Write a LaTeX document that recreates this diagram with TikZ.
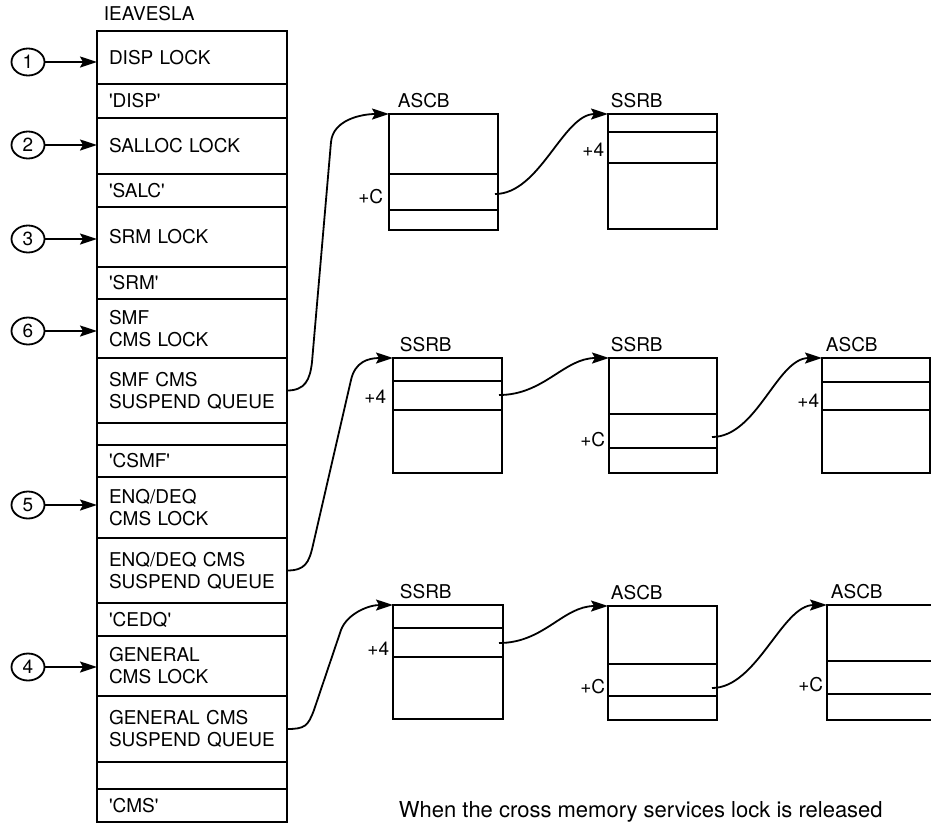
\documentclass[tikz,border=0pt]{standalone}
\usepackage{fontspec}
\setmainfont{TeX Gyre Heros}
\usetikzlibrary{shapes.geometric, arrows.meta, positioning, calc}
\newcommand{\diagfont}{\fontsize{19}{22}\selectfont}
\newcommand{\tick}{\textquotesingle}

\begin{document}
\begin{tikzpicture}[x=1pt, y=-1pt, line width=1.8pt,
  slot/.style={draw, outer sep=0pt, inner xsep=12pt, inner ysep=0pt, minimum width=190pt, text width=166pt, align=left, font=\diagfont},
  num/.style={draw, ellipse, minimum width=33pt, minimum height=27pt, inner sep=0pt, font=\diagfont},
  cb/.style={draw, outer sep=0pt, anchor=north west, minimum width=109pt, minimum height=116pt, inner sep=0pt},
  cbtitle/.style={anchor=base west, inner sep=0pt, font=\diagfont},
  offs/.style={anchor=base east, inner sep=0pt, font=\diagfont},
  ptr/.style={-{Stealth[length=17pt, width=11pt, inset=3pt]}}]
  \useasboundingbox (0,0) rectangle (931,823);

  % the lock word area
  \node[cbtitle] (ttl) at (103,20) {IEAVESLA};
  \node[slot, anchor=north west, minimum height=53pt] (r1) at (97,31) {DISP LOCK};
  \node[slot, minimum height=34pt, below=0pt of r1] (r2) {\tick DISP\tick};
  \node[slot, minimum height=56pt, below=0pt of r2] (r3) {SALLOC LOCK};
  \node[slot, minimum height=33pt, below=0pt of r3] (r4) {\tick SALC\tick};
  \node[slot, minimum height=60pt, below=0pt of r4] (r5) {SRM LOCK};
  \node[slot, minimum height=32pt, below=0pt of r5] (r6) {\tick SRM\tick};
  \node[slot, minimum height=59pt, below=0pt of r6] (r7) {SMF\\CMS LOCK};
  \node[slot, minimum height=65pt, below=0pt of r7] (r8) {SMF CMS\\SUSPEND QUEUE};
  \node[slot, minimum height=22pt, below=0pt of r8] (r9) {};
  \node[slot, minimum height=32pt, below=0pt of r9] (r10) {\tick CSMF\tick};
  \node[slot, minimum height=61pt, below=0pt of r10] (r11) {ENQ/DEQ\\CMS LOCK};
  \node[slot, minimum height=65pt, below=0pt of r11] (r12) {ENQ/DEQ CMS\\SUSPEND QUEUE};
  \node[slot, minimum height=33pt, below=0pt of r12] (r13) {\tick CEDQ\tick};
  \node[slot, minimum height=60pt, below=0pt of r13] (r14) {GENERAL\\CMS LOCK};
  \node[slot, minimum height=66pt, below=0pt of r14] (r15) {GENERAL CMS\\SUSPEND QUEUE};
  \node[slot, minimum height=27pt, below=0pt of r15] (r16) {};
  \node[slot, minimum height=33pt, below=0pt of r16] (r17) {\tick CMS\tick};

  % numbered entry points
  \node[num] (c1) at (28,62) {1};
  \node[num] (c2) at (28,145) {2};
  \node[num] (c3) at (28,239) {3};
  \node[num] (c6) at (28,331) {6};
  \node[num] (c5) at (28,505) {5};
  \node[num] (c4) at (28,667) {4};
  \draw[ptr] (c1) -- (c1 -| r1.west);
  \draw[ptr] (c2) -- (c2 -| r3.west);
  \draw[ptr] (c3) -- (c3 -| r5.west);
  \draw[ptr] (c6) -- (c6 -| r7.west);
  \draw[ptr] (c5) -- (c5 -| r11.west);
  \draw[ptr] (c4) -- (c4 -| r14.west);

  % SMF queue
  \node[cb] (a1) at (389,114) {};
  \node[cbtitle] at ([shift={(8,-7)}]a1.north west) {ASCB};
  \draw ($(a1.north west)+(0,60)$) -- ($(a1.north east)+(0,60)$);
  \draw ($(a1.north west)+(0,96)$) -- ($(a1.north east)+(0,96)$);
  \node[offs] at ($(a1.north west)+(-5,89)$) {+C};
  \node[cb, minimum height=115pt] (s1) at (608,114) {};
  \node[cbtitle] at ([shift={(2,-7)}]s1.north west) {SSRB};
  \draw ($(s1.north west)+(0,18)$) -- ($(s1.north east)+(0,18)$);
  \draw ($(s1.north west)+(0,49)$) -- ($(s1.north east)+(0,49)$);
  \node[offs] at ($(s1.north west)+(-3,42)$) {+4};

  % ENQ/DEQ queue
  \node[cb, minimum height=115pt] (s2) at (393,358) {};
  \node[cbtitle] at ([shift={(6,-7)}]s2.north west) {SSRB};
  \draw ($(s2.north west)+(0,23)$) -- ($(s2.north east)+(0,23)$);
  \draw ($(s2.north west)+(0,52)$) -- ($(s2.north east)+(0,52)$);
  \node[offs] at ($(s2.north west)+(-6,45)$) {+4};
  \node[cb, minimum width=108pt, minimum height=115pt] (s3) at (609,358) {};
  \node[cbtitle] at ([shift={(1,-7)}]s3.north west) {SSRB};
  \draw ($(s3.north west)+(0,56)$) -- ($(s3.north east)+(0,56)$);
  \draw ($(s3.north west)+(0,90)$) -- ($(s3.north east)+(0,90)$);
  \node[offs] at ($(s3.north west)+(-3,88)$) {+C};
  \node[cb, minimum width=108pt, minimum height=115pt] (a2) at (822,358) {};
  \node[cbtitle] at ([shift={(3,-7)}]a2.north west) {ASCB};
  \draw ($(a2.north west)+(0,24)$) -- ($(a2.north east)+(0,24)$);
  \draw ($(a2.north west)+(0,52)$) -- ($(a2.north east)+(0,52)$);
  \node[offs] at ($(a2.north west)+(-2,49)$) {+4};

  % general queue
  \node[cb, minimum width=110pt, minimum height=114pt] (s4) at (393,605) {};
  \node[cbtitle] at ([shift={(6,-7)}]s4.north west) {SSRB};
  \draw ($(s4.north west)+(0,23)$) -- ($(s4.north east)+(0,23)$);
  \draw ($(s4.north west)+(0,52)$) -- ($(s4.north east)+(0,52)$);
  \node[offs] at ($(s4.north west)+(-3,50)$) {+4};
  \node[cb, minimum height=114pt] (a3) at (608,606) {};
  \node[cbtitle] at ([shift={(2,-7)}]a3.north west) {ASCB};
  \draw ($(a3.north west)+(0,58)$) -- ($(a3.north east)+(0,58)$);
  \draw ($(a3.north west)+(0,90)$) -- ($(a3.north east)+(0,90)$);
  \node[offs] at ($(a3.north west)+(-2,87)$) {+C};
  \node[cb, minimum height=115pt] (a4) at (827,605) {};
  \node[cbtitle] at ([shift={(3,-7)}]a4.north west) {ASCB};
  \draw ($(a4.north west)+(0,56)$) -- ($(a4.north east)+(0,56)$);
  \draw ($(a4.north west)+(0,89)$) -- ($(a4.north east)+(0,89)$);
  \node[offs] at ($(a4.north west)+(-3,86)$) {+C};

  % chain pointers
  \coordinate (a1p) at ($(a1.north west)+(106,80)$);
  \coordinate (s2p) at ($(s2.north west)+(106,37)$);
  \coordinate (s3p) at ($(s3.north west)+(103,79)$);
  \coordinate (s4p) at ($(s4.north west)+(106,38)$);
  \coordinate (a3p) at ($(a3.north west)+(104,82)$);
  \draw[ptr] (a1p) .. controls +(45,0) and +(-45,0) .. (s1.north west);
  \draw[ptr] (s2p) .. controls +(45,0) and +(-45,0) .. (s3.north west);
  \draw[ptr] (s3p) .. controls +(45,0) and +(-45,0) .. (a2.north west);
  \draw[ptr] (s4p) .. controls +(45,0) and +(-45,0) .. (a3.north west);
  \draw[ptr] (a3p) .. controls +(45,0) and +(-45,0) .. (a4.north west);

  % queue anchors
  \draw[ptr] (r8.east) .. controls +(18,0) and +(-2,18) .. (312,362)
      -- (331,142) .. controls +(2,-22) and +(-28,0) .. (a1.north west);
  \draw[ptr] (r12.east) .. controls +(18,0) and +(-4,18) .. (313,545)
      -- (351,380) .. controls +(4,-18) and +(-25,0) .. (s2.north west);
  \draw[ptr] (r15.east) .. controls +(18,0) and +(-6,16) .. (314,710)
      -- (341,630) .. controls +(6,-16) and +(-25,0) .. (s4.north west);

  \node[anchor=base west, inner sep=0pt, font=\fontsize{22}{26}\selectfont] (note) at (398,817)
      {When the cross memory services lock is released};
\end{tikzpicture}
\end{document}
